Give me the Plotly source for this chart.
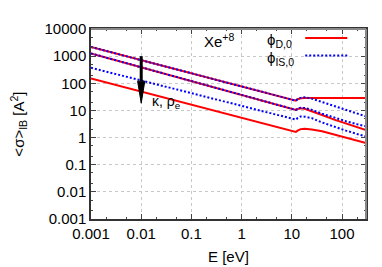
import plotly.graph_objects as go
import math

# Energy grid [eV]
E = [0.001, 0.01, 0.1, 1, 5, 10, 12, 13, 15, 18, 25, 40, 70, 120, 200, 300]

# phi_D,0 (red, solid) curves
red_A = [2170, 703, 228, 73.6, 33.5, 23.8, 23.0, 26.0, 28.0, 28.5, 28.6, 28.6, 28.6, 28.6, 28.6, 28.6]
red_B = [1260, 394, 123, 38.5, 17.1, 12.0, 10.5, 11.3, 12.0, 11.5, 9.5, 6.8, 4.6, 3.3, 2.4, 1.9]
red_C = [149, 49.3, 16.3, 5.4, 2.49, 1.79, 1.6, 1.8, 2.05, 2.1, 2.0, 1.7, 1.3, 1.0, 0.78, 0.63]

# phi_IS,0 (blue, dotted) curves
blue_A = [2170, 703, 228, 73.6, 33.5, 23.8, 23.0, 26.0, 29.0, 30.5, 27.2, 20.4, 14.5, 10.4, 7.6, 6.0]
blue_B = [1260, 394, 123, 38.5, 17.1, 12.0, 10.5, 11.5, 12.5, 12.3, 10.5, 7.6, 5.4, 4.0, 3.1, 2.6]
blue_C = [373, 126, 42.3, 14.2, 6.67, 4.78, 4.6, 5.2, 6.0, 5.9, 5.2, 3.6, 2.5, 1.8, 1.35, 1.1]

x_ticks = [0.001, 0.01, 0.1, 1, 10, 100]
x_ticklabels = ["0.001", "0.01", "0.1", "1", "10", "100"]
y_ticks = [0.001, 0.01, 0.1, 1, 10, 100, 1000, 10000]
y_ticklabels = ["0.001", "0.01", "0.1", "1", "10", "100", "1000", "10000"]

x_range = [0.001, 300]
y_range = [0.001, 10000]

arrow_E = 0.01
arrow_from = 1000
arrow_head_base = 120
arrow_to = 18.5

RED = "#ff0000"
BLUE = "#0000ff"
FONT = "Liberation Sans"

W, H = 382, 267
ML, MR, MT, MB = 82.5, 24, 12.5, 56
plot_w = W - ML - MR


def px_(v):
    lo, hi = math.log10(x_range[0]), math.log10(x_range[1])
    return (math.log10(v) - lo) / (hi - lo)


def py_(v):
    lo, hi = math.log10(y_range[0]), math.log10(y_range[1])
    return (math.log10(v) - lo) / (hi - lo)


fig = go.Figure()
for ys in (red_A, red_B, red_C):
    fig.add_trace(go.Scatter(x=E, y=ys, mode="lines", line=dict(color=RED, width=2),
                             showlegend=False, hoverinfo="skip"))
for ys in (blue_A, blue_B, blue_C):
    fig.add_trace(go.Scatter(x=E, y=ys, mode="lines", line=dict(color=BLUE, width=2, dash="2px,2px"),
                             showlegend=False, hoverinfo="skip"))

axis_common = dict(
    type="log", showgrid=True, gridcolor="#c8c8c8", griddash="dot", gridwidth=1,
    ticks="inside", ticklen=5, tickcolor="#444", showline=True, linecolor="#333", linewidth=1.5,
    mirror="ticks", zeroline=False,
    tickfont=dict(family=FONT, size=15, color="black"),
    minor=dict(ticks="inside", ticklen=2.5, tickcolor="#444", showgrid=False),
)

fig.update_xaxes(range=[math.log10(x_range[0]), math.log10(x_range[1])], tickvals=x_ticks,
                 ticktext=x_ticklabels, **axis_common)
fig.update_yaxes(range=[math.log10(y_range[0]), math.log10(y_range[1])], tickvals=y_ticks,
                 ticktext=y_ticklabels, **axis_common)

annotations = [
    dict(x=0.5, y=-39 / 198.5, xref="paper", yref="paper", xanchor="center", yanchor="middle",
         text="E [eV]", showarrow=False, font=dict(family=FONT, size=15, color="black")),
    dict(x=0.216, y=0.615, xref="paper", yref="paper", xanchor="left", yanchor="middle",
         text="κ, ρ<sub>e</sub>", showarrow=False, font=dict(family=FONT, size=14, color="black")),
    dict(x=0.405, y=0.937, xref="paper", yref="paper", xanchor="left", yanchor="middle",
         text="Xe<sup>+8</sup>", showarrow=False, font=dict(family=FONT, size=15, color="black")),
    dict(x=0.738, y=0.94, xref="paper", yref="paper", xanchor="right", yanchor="middle",
         text="ϕ<sub>D,0</sub>", showarrow=False, font=dict(family=FONT, size=15, color="black")),
    dict(x=0.745, y=0.845, xref="paper", yref="paper", xanchor="right", yanchor="middle",
         text="ϕ<sub>IS,0</sub>", showarrow=False, font=dict(family=FONT, size=15, color="black")),
    dict(x=-73.5 / plot_w, y=0.5, xref="paper", yref="paper", xanchor="center", yanchor="middle",
         textangle=-90, text="<σ><sub>IB</sub> [A<sup>2</sup>]", showarrow=False,
         font=dict(family=FONT, size=15, color="black")),
]

ax_x = px_(arrow_E)
half = 3.6 / plot_w
shapes = [
    # arrow shaft and head
    dict(type="line", xref="paper", yref="paper", x0=ax_x, x1=ax_x, y0=py_(arrow_from), y1=py_(arrow_head_base),
         line=dict(color="black", width=3)),
    dict(type="path", xref="paper", yref="paper",
         path=f"M {ax_x - half},{py_(arrow_head_base)} L {ax_x + half},{py_(arrow_head_base)} L {ax_x},{py_(arrow_to)} Z",
         fillcolor="black", line=dict(color="black", width=1)),
    # legend samples
    dict(type="line", xref="paper", yref="paper", x0=0.779, x1=0.932, y0=0.952, y1=0.952,
         line=dict(color=RED, width=2)),
    dict(type="line", xref="paper", yref="paper", x0=0.779, x1=0.932, y0=0.861, y1=0.861,
         line=dict(color=BLUE, width=2, dash="2px,2px")),
    # top / right frame
    dict(type="line", xref="paper", yref="paper", x0=0, x1=1, y0=1, y1=1,
         line=dict(color="#888", width=2)),
    dict(type="line", xref="paper", yref="paper", x0=1, x1=1, y0=0, y1=1,
         line=dict(color="#888", width=2)),
]

fig.update_layout(
    width=W, height=H,
    margin=dict(l=ML, r=MR, t=MT, b=MB),
    paper_bgcolor="white", plot_bgcolor="white",
    annotations=annotations, shapes=shapes,
    font=dict(family=FONT),
)

fig.write_html("out.html")
